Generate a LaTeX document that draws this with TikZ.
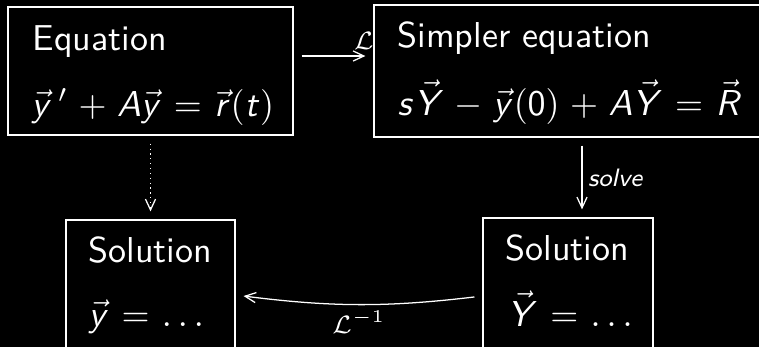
\documentclass[tikz,border=0pt]{standalone}
\usepackage{amsmath}
\usetikzlibrary{arrows.meta}
\DeclareMathAlphabet{\mathsfsl}{OT1}{cmss}{m}{sl}
\newcommand{\sfv}[1]{\vec{\mathsfsl{#1}}}
\newcommand{\sfl}[1]{\mathsfsl{#1}}
\newcommand{\pxl}{0.2778pt}
\medmuskip=5.2mu plus 2mu minus 4mu
\thickmuskip=6.2mu plus 5mu
\begin{document}
\begin{tikzpicture}[x=0.2778pt,y=-0.2778pt, line width=0.35pt,
  box/.style={draw=white, inner sep=0pt},
  txt/.style={text=white, inner sep=0pt, anchor=base west, font=\sffamily},
  arr/.style={draw=white, -{Straight Barb[length=3pt,width=2.8pt]}, shorten <=8*\pxl, shorten >=8*\pxl},
  lbl/.style={text=white, font=\scriptsize, inner sep=1.5pt}]
\fill[black] (0,0) rectangle (759,347);
\useasboundingbox (0,0) rectangle (759,347);
\clip (0,0) rectangle (759,347);
% boxes
\node[box, minimum width=285*\pxl, minimum height=128*\pxl] (A) at (150.5,71) {};
\node[box, minimum width=388*\pxl, minimum height=132*\pxl] (B) at (568,71) {};
\node[box, minimum width=169*\pxl, minimum height=132*\pxl] (C) at (150.5,286) {};
\node[box, minimum width=170*\pxl, minimum height=134*\pxl] (D) at (568,285) {};
% texts
\node[txt] (At) at (32,50) {Equation};
\node[txt] (Am) at (31,116) {$\sfv{y}\,'+\sfl{A}\sfv{y}=\sfv{r}(\sfl{t})$};
\node[txt] (Bt) at (397,47) {Simpler equation};
\node[txt] (Bm) at (397,115) {$\sfl{s}\sfv{Y}-\sfv{y}(\mathsf{0})+\sfl{A}\sfv{Y}=\sfv{R}$};
\node[txt] (Ct) at (88,262) {Solution};
\node[txt] (Cm) at (88,326) {$\sfv{y}=\ldots$};
\node[txt] (Dt) at (505,260) {Solution};
\node[txt] (Dm) at (507,326) {$\sfv{Y}=\ldots$};
% connectors
\draw[arr] ([yshift=15*\pxl]A.east) -- node[lbl, above, pos=0.88] {$\mathcal{L}$} ([yshift=15*\pxl]B.west);
\draw[arr, densely dotted] (A.south) -- (C.north);
\draw[arr] ([xshift=14*\pxl]B.south) -- node[lbl, right, font=\scriptsize\sffamily\slshape] {solve} ([xshift=14*\pxl]D.north);
\draw[arr] ([yshift=-11*\pxl]D.west) to[bend left=7] node[lbl, below] {$\mathcal{L}^{-1}$} ([yshift=-9*\pxl]C.east);
\end{tikzpicture}
\end{document}
